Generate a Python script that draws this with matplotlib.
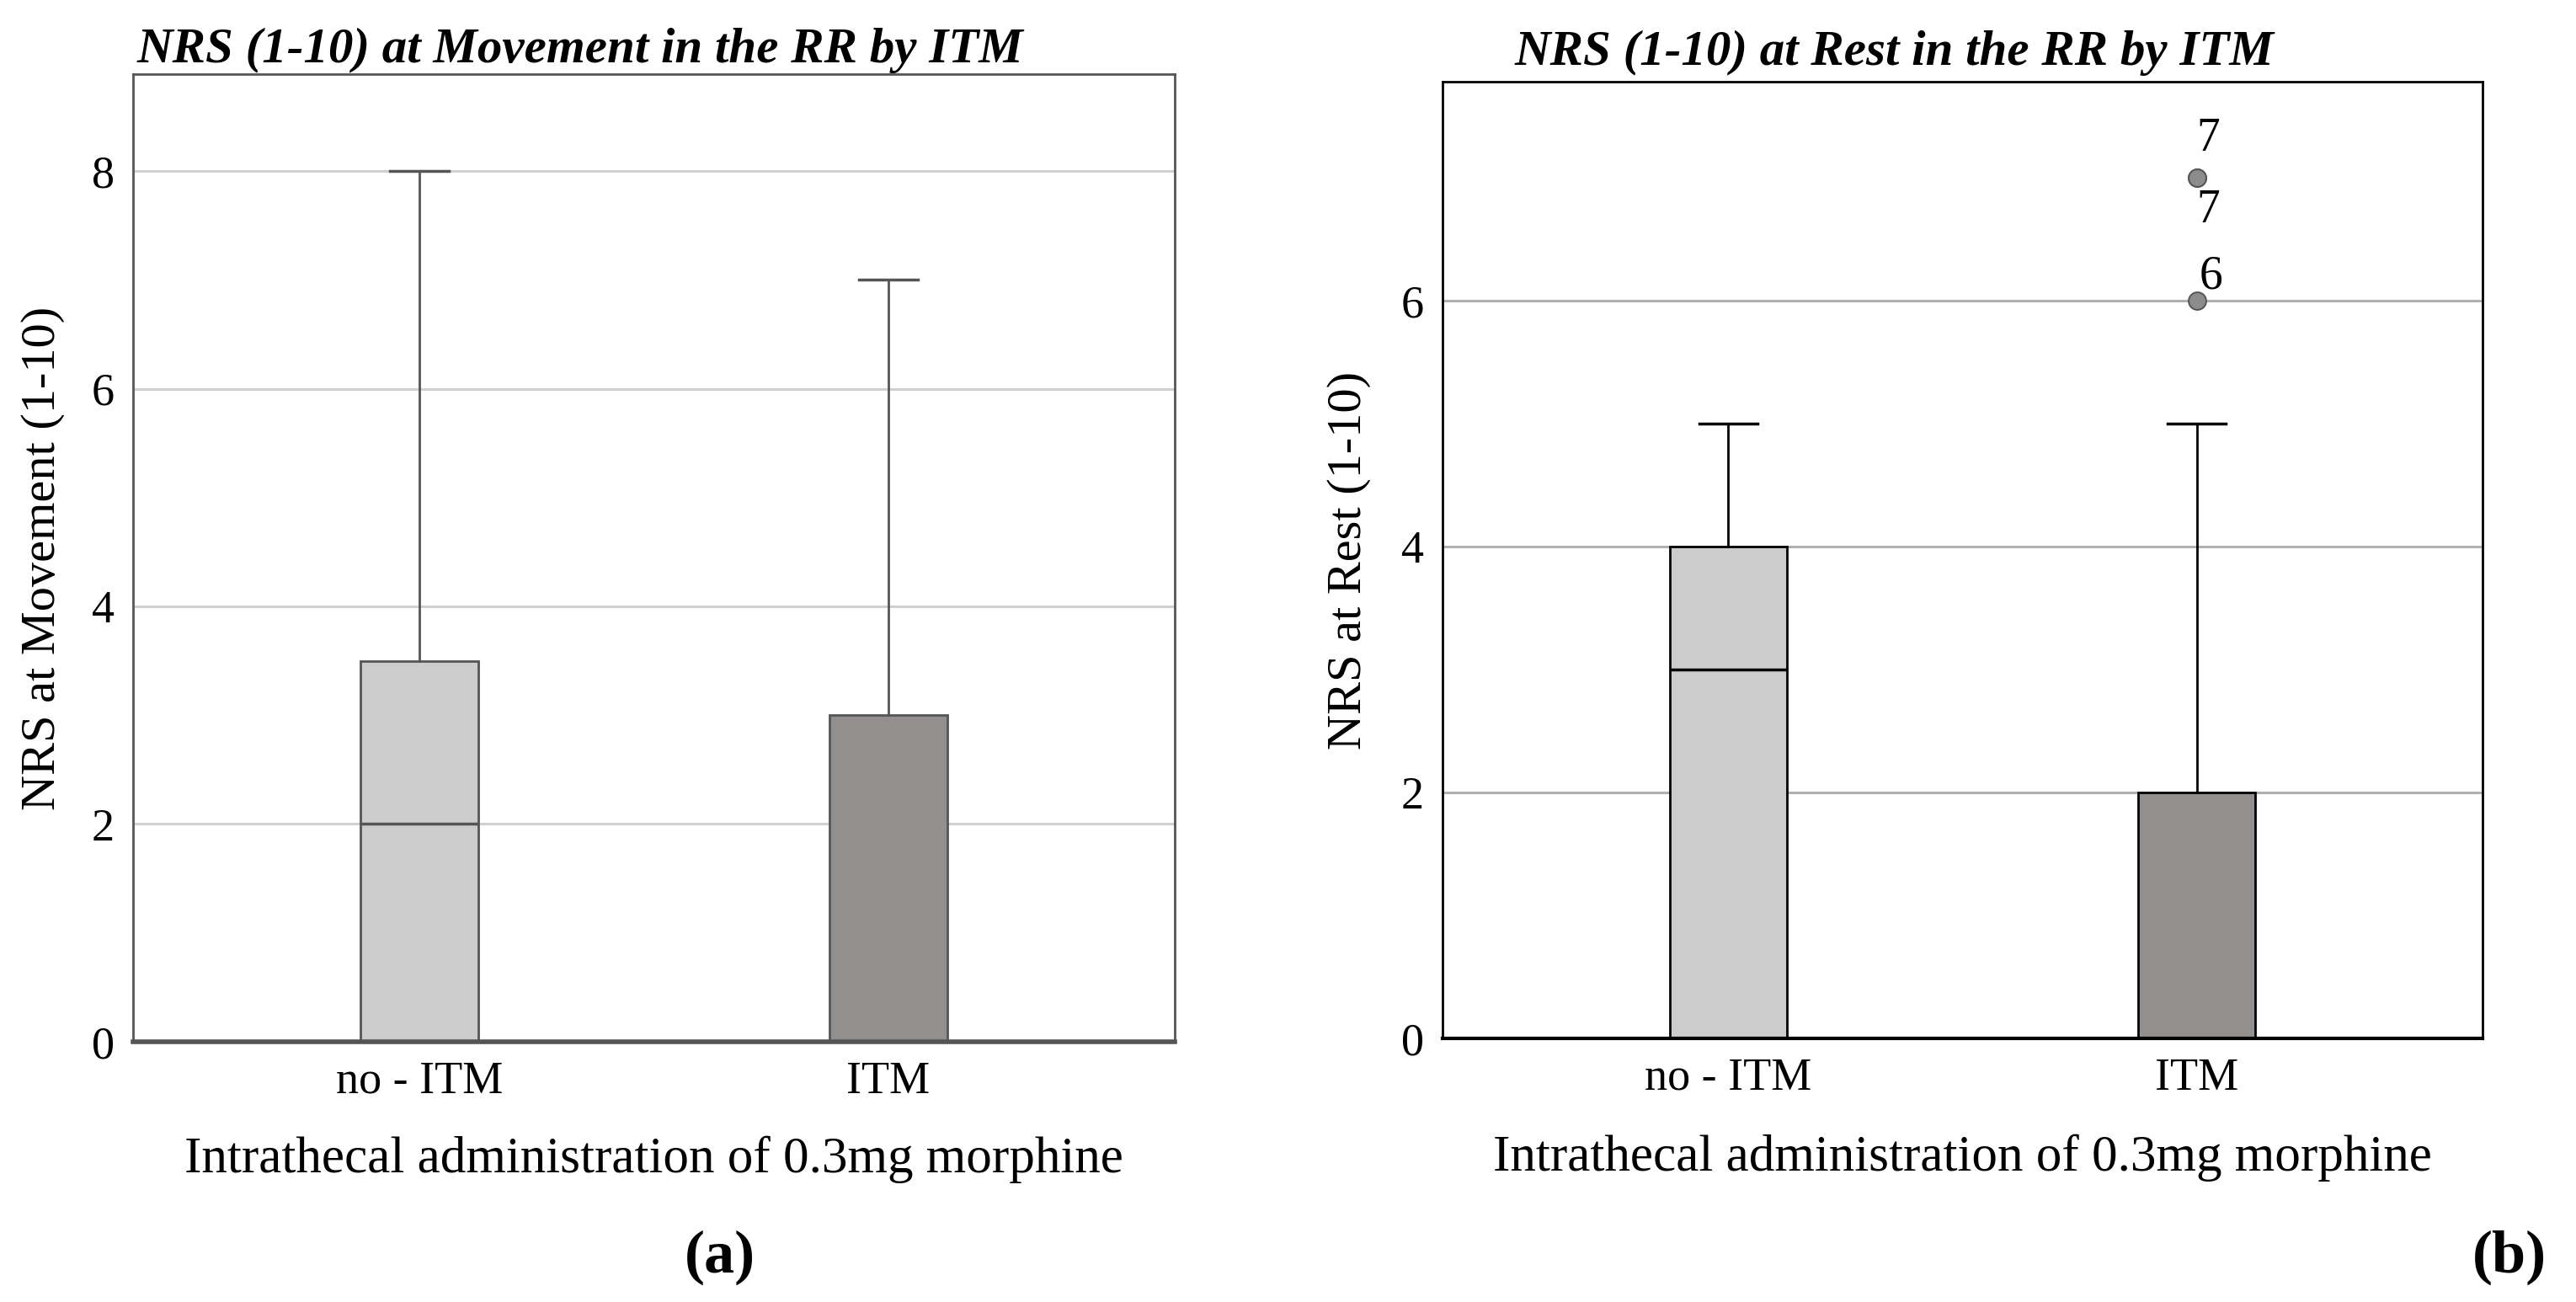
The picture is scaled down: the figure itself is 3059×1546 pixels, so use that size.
import matplotlib
matplotlib.use("Agg")
import matplotlib.pyplot as plt

# box plot statistics
groups = ["no - ITM", "ITM"]

mov_q1 = [0, 0]
mov_med = [2, 0]
mov_q3 = [3.5, 3]
mov_whislo = [0, 0]
mov_whishi = [8, 7]

rest_q1 = [0, 0]
rest_med = [3, 0]
rest_q3 = [4, 2]
rest_whislo = [0, 0]
rest_whishi = [5, 5]
rest_fliers = [[], [7, 7, 6]]
rest_flier_labels = ["7", "7", "6"]

box_colors = ["#cccccc", "#938f8e"]

serif = "Liberation Serif"


def make_stats(q1, med, q3, lo, hi, fliers=None):
    stats = []
    for i in range(len(groups)):
        stats.append({"label": groups[i], "q1": q1[i], "med": med[i], "q3": q3[i],
                      "whislo": lo[i], "whishi": hi[i],
                      "fliers": fliers[i] if fliers else []})
    return stats


def draw_panel(ax, stats, edge, gridcolor, ymax, yticks, ylabel, ylab_x, xlab_y):
    ax.set_axisbelow(True)
    ax.yaxis.grid(True, color=gridcolor, linewidth=2.2)
    bp = ax.bxp(stats, positions=[1, 2], widths=0.25, capwidths=0.125, patch_artist=True,
                boxprops=dict(edgecolor=edge, linewidth=2),
                whiskerprops=dict(color=edge, linewidth=2),
                capprops=dict(color=edge, linewidth=2.5),
                medianprops=dict(color=edge, linewidth=2.5),
                flierprops=dict(marker="o", markersize=15, markerfacecolor="#8c8c8c",
                                markeredgecolor="#555555", markeredgewidth=1.4))
    for patch, c in zip(bp["boxes"], box_colors):
        patch.set_facecolor(c)
    ax.set_xlim(0.39, 2.61)
    ax.set_ylim(0, ymax)
    ax.set_yticks(yticks)
    ax.tick_params(axis="both", length=0, labelsize=39, pad=16)
    for lab in ax.get_xticklabels() + ax.get_yticklabels():
        lab.set_family(serif)
    ax.set_ylabel(ylabel, family=serif, fontsize=42, va="center")
    ax.yaxis.set_label_coords(ylab_x, 0.5)
    ax.set_xlabel("Intrathecal administration of 0.3mg morphine", family=serif,
                  fontsize=44, va="center")
    ax.xaxis.set_label_coords(0.5, xlab_y)
    for s in ax.spines.values():
        s.set_color(edge)
        s.set_linewidth(2)
    return bp


fig = plt.figure(figsize=(30.59, 15.46), dpi=100)

ax1 = fig.add_axes([0.0517, 0.200, 0.4043, 0.743])
draw_panel(ax1, make_stats(mov_q1, mov_med, mov_q3, mov_whislo, mov_whishi),
           "#555555", "#d0d0d0", 8.89, [0, 2, 4, 6, 8], "NRS at Movement (1-10)",
           -0.087, -0.122)
ax1.spines["bottom"].set_linewidth(4)

ax2 = fig.add_axes([0.560, 0.2025, 0.4037, 0.7345])
draw_panel(ax2, make_stats(rest_q1, rest_med, rest_q3, rest_whislo, rest_whishi, rest_fliers),
           "black", "#b0b0b0", 7.78, [0, 2, 4, 6], "NRS at Rest (1-10)",
           -0.090, -0.125)
ax2.spines["bottom"].set_linewidth(3)

# outlier labels
offsets = [(10, 33), (10, -28), (12, 21)]
for val, lab, off in zip(rest_fliers[1], rest_flier_labels, offsets):
    ax2.annotate(lab, (2, val), xytext=off, textcoords="offset points",
                 family=serif, fontsize=40, ha="center", va="center")

fig.text(0.053, 0.952, "NRS (1-10) at Movement in the RR by ITM", family=serif,
         style="italic", weight="bold", fontsize=42.5, ha="left", va="baseline")
fig.text(0.588, 0.950, "NRS (1-10) at Rest in the RR by ITM", family=serif,
         style="italic", weight="bold", fontsize=42.5, ha="left", va="baseline")

fig.text(0.2795, 0.034, "(a)", family=serif, weight="bold", fontsize=52,
         ha="center", va="center")
fig.text(0.974, 0.034, "(b)", family=serif, weight="bold", fontsize=52,
         ha="center", va="center")

fig.savefig("out.png", dpi=100, facecolor="white")
